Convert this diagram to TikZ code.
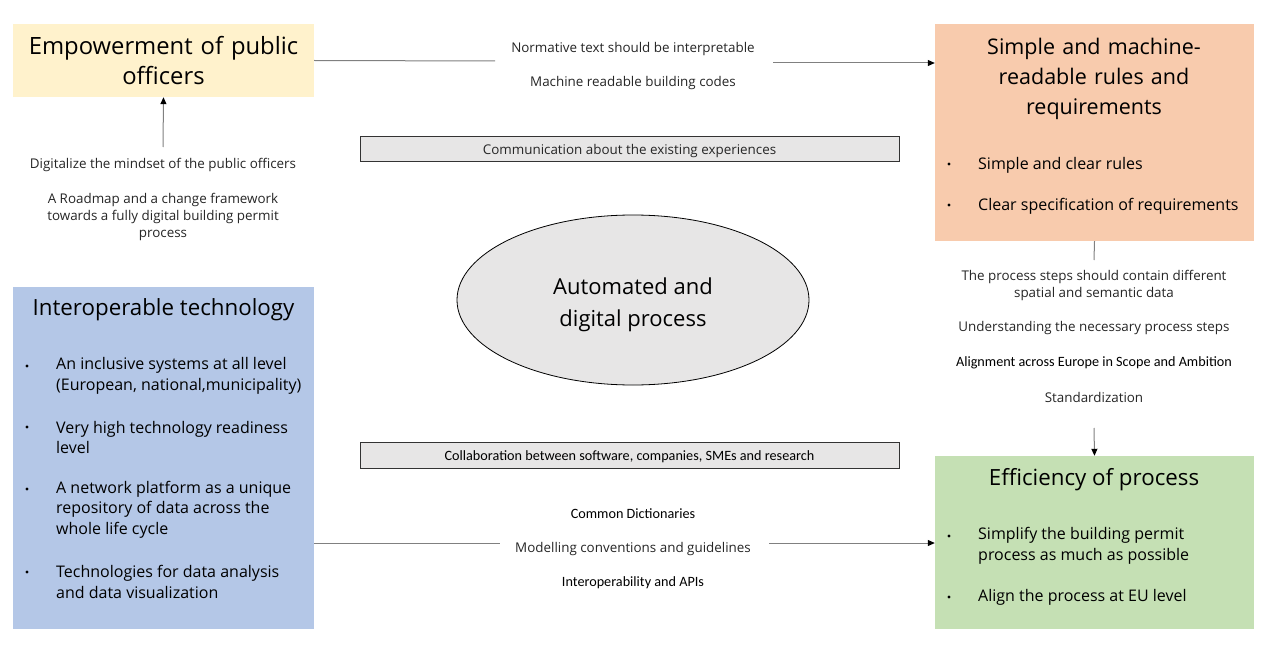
\documentclass[tikz,border=0pt]{standalone}
\usepackage{fontspec}
\setmainfont{Open Sans}
\newfontfamily\calfont{Carlito}
\usetikzlibrary{arrows.meta,shapes.geometric}
\definecolor{yel}{HTML}{FFF2CC}
\definecolor{ora}{HTML}{F8CBAD}
\definecolor{blu}{HTML}{B4C7E7}
\definecolor{gre}{HTML}{C5E0B4}
\definecolor{lgray}{HTML}{E7E6E6}
\definecolor{txt}{HTML}{262626}
\definecolor{linec}{HTML}{808080}
\tikzset{
  panel/.style={draw=none, inner sep=0pt},
  ttl/.style={align=center, font=\fontsize{22.3}{30}\selectfont, text=black, inner sep=0pt},
  bul/.style={circle, fill=black, draw=none, inner sep=0pt, minimum size=3.4pt},
  btxt/.style={anchor=west, align=left, font=\fontsize{16}{20.5}\selectfont, text=black, inner sep=0pt},
  note/.style={align=center, font=\fontsize{13.4}{17}\selectfont, text=txt, inner sep=0pt},
  cnote/.style={align=center, font=\calfont\fontsize{14.2}{17}\selectfont, text=black, inner sep=0pt},
  graybox/.style={draw=black!80, fill=lgray, line width=0.8pt, minimum width=539pt, inner sep=0pt},
  conn/.style={draw=linec, line width=1pt},
  arr/.style={conn, -{Triangle[length=7pt,width=6pt,black]}}
}
\begin{document}
\begin{tikzpicture}[x=1pt,y=-1pt]
\useasboundingbox (0,0) rectangle (1277,650);
\fill[white] (0,0) rectangle (1277,650);

% panels
\node[panel, fill=yel, minimum width=301pt, minimum height=73pt] (emp) at (163.5,60.5) {};
\node[ttl, font=\fontsize{23.8}{30}\selectfont, text width=295pt] (empt) at (163.5,61) {Empowerment of public\\officers};

\node[panel, fill=ora, minimum width=319pt, minimum height=217pt] (simple) at (1094.5,132.5) {};
\node[ttl, font=\fontsize{21.5}{30}\selectfont, text width=300pt] (simplet) at (1094,78.5) {Simple and machine-\\readable rules and\\requirements};
\node[bul] (sb1) at (949,164) {};
\node[btxt] (st1) at (978,165) {Simple and clear rules};
\node[bul] (sb2) at (949,205) {};
\node[btxt] (st2) at (978,206) {Clear specification of requirements};

\node[panel, fill=blu, minimum width=301pt, minimum height=342pt] (inter) at (163.5,458) {};
\node[ttl] (intert) at (163.5,310) {Interoperable technology};
\node[bul] (ib1) at (27,366) {};
\node[btxt] (it1) at (56,376) {An inclusive systems at all level\\(European, national,municipality)};
\node[bul] (ib2) at (27,427) {};
\node[btxt] (it2) at (56,437.5) {Very high technology readiness\\level};
\node[bul] (ib3) at (27,489) {};
\node[btxt] (it3) at (56,509.5) {A network platform as a unique\\repository of data across the\\whole life cycle};
\node[bul] (ib4) at (27,572) {};
\node[btxt] (it4) at (56,582) {Technologies for data analysis\\and data visualization};

\node[panel, fill=gre, minimum width=319pt, minimum height=173pt] (eff) at (1094.5,542.5) {};
\node[ttl] (efft) at (1094,480) {Efficiency of process};
\node[bul] (eb1) at (949,536) {};
\node[btxt] (et1) at (978,546) {Simplify the building permit\\process as much as possible};
\node[bul] (eb2) at (949,597) {};
\node[btxt] (et2) at (978,597) {Align the process at EU level};

% ellipse
\node[ellipse, draw=black, line width=0.8pt, fill=lgray, minimum width=352pt, minimum height=170pt, inner sep=0pt] (auto) at (633,300) {};
\node[ttl, font=\fontsize{22}{32}\selectfont] (autot) at (633,305) {Automated and\\digital process};

% gray bars
\node[graybox, minimum height=25pt] (comm) at (629.5,148.5) {};
\node[note] (commt) at (629.5,151) {Communication about the existing experiences};
\node[graybox, minimum height=26pt] (coll) at (629.5,455) {};
\node[cnote] (collt) at (629.5,457) {Collaboration between software, companies, SMEs and research};

% top connector
\node[note] (norm) at (633,49) {Normative text should be interpretable};
\node[note] (mach) at (633,83) {Machine readable building codes};
\coordinate (t1) at (495,61);
\coordinate (t2) at (773,63);
\draw[conn] (emp.east) -- (t1);
\draw[arr] (t2) -- (t2 -| simple.west);

% left annotations
\node[note] (dig) at (163,165) {Digitalize the mindset of the public officers};
\node[note] (road) at (163,217) {A Roadmap and a change framework\\towards a fully digital building permit\\process};
\coordinate (la) at (163,147);
\draw[arr] (la) -- (emp.south);

% right annotations
\coordinate (r1) at (1094,260);
\draw[conn] (simple.south) -- (r1);
\node[note] (proc) at (1094,285.5) {The process steps should contain different\\spatial and semantic data};
\node[note] (und) at (1094,328) {Understanding the necessary process steps};
\node[cnote] (align) at (1094,362.5) {Alignment across Europe in Scope and Ambition};
\node[note] (std) at (1094,397) {Standardization};
\coordinate (r2) at (1094,428);
\draw[arr] (r2) -- (eff.north);

% bottom connector
\node[cnote] (dict) at (633,513.5) {Common Dictionaries};
\node[note] (model) at (633,549) {Modelling conventions and guidelines};
\node[cnote] (apis) at (633,582.5) {Interoperability and APIs};
\coordinate (b1) at (500,543);
\coordinate (b2) at (769,543);
\draw[conn] (inter.east |- b1) -- (b1);
\draw[arr] (b2) -- (b2 -| eff.west);
\end{tikzpicture}
\end{document}
